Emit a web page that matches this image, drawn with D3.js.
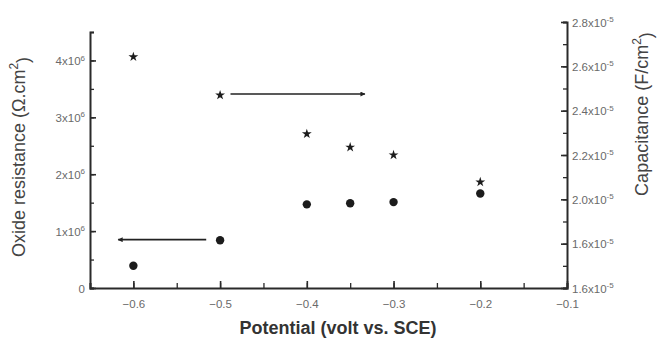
<!DOCTYPE html>
<html>
<head>
<meta charset="utf-8">
<script src="https://cdn.jsdelivr.net/npm/d3@7"></script>
<style>
  body { margin: 0; background: #fff; }
  svg text { font-family: "Liberation Sans", Arial, sans-serif; }
</style>
</head>
<body>
<div class="chart"></div>
<script>
// data
var potentials = [-0.6, -0.5, -0.4, -0.35, -0.3, -0.2];
var resistance = [0.39e6, 0.84e6, 1.47e6, 1.49e6, 1.51e6, 1.66e6];
var capacitance = [2.643e-5, 2.47e-5, 2.295e-5, 2.235e-5, 2.2e-5, 2.078e-5];

var xTicks = [-0.6, -0.5, -0.4, -0.3, -0.2, -0.1];
var leftTicks = [0, 1e6, 2e6, 3e6, 4e6];
var leftTickLabels = ['0', '1x10', '2x10', '3x10', '4x10'];
var rightTicks = [1.6e-5, 1.8e-5, 2.0e-5, 2.2e-5, 2.4e-5, 2.6e-5, 2.8e-5];
var rightTickLabels = ['1.6x10', '1.6x10', '2.0x10', '2.2x10', '2.4x10', '2.6x10', '2.8x10'];

// arrows: [x start, x end, y value, axis]
var arrows = [
  { x1: -0.488, x2: -0.333, y: 2.475e-5, axis: 'right' },
  { x1: -0.516, x2: -0.6175, y: 0.85e6, axis: 'left' }
];

var width = 657, height = 339;
var left = 90, right = 567, bottom = 288, topL = 32, topR = 22;

var svg = d3.select('.chart').append('svg')
    .attr('width', width)
    .attr('height', height);

var defs = svg.append('defs');
defs.append('marker')
    .attr('id', 'head')
    .attr('viewBox', '0 0 10 10')
    .attr('refX', 9).attr('refY', 5)
    .attr('markerWidth', 7).attr('markerHeight', 5)
    .attr('markerUnits', 'userSpaceOnUse')
    .attr('orient', 'auto')
    .append('path')
    .attr('d', 'M0,0 L10,5 L0,10 z')
    .attr('fill', '#222');

var x = d3.scaleLinear().domain([-0.65, -0.1]).range([left, right]);
var yL = d3.scaleLinear().domain([0, 4.5e6]).range([bottom, topL]);
var yR = d3.scaleLinear().domain([1.6e-5, 2.8e-5]).range([bottom, topR]);

var axisColor = '#2a2a2a';
var labelColor = '#6a6a6a';

// x axis
var xAxis = svg.append('g')
    .attr('transform', 'translate(0,' + bottom + ')')
    .call(d3.axisBottom(x).tickValues(d3.range(-0.65, -0.099, 0.05)).tickSize(-5).tickFormat(''));
xAxis.selectAll('.tick line').attr('stroke', axisColor).attr('stroke-width', 1.3);
xAxis.select('.domain').attr('stroke', axisColor).attr('stroke-width', 2);
var xAxisMajor = svg.append('g')
    .attr('transform', 'translate(0,' + bottom + ')')
    .call(d3.axisBottom(x).tickValues(xTicks).tickSize(-7).tickPadding(12).tickFormat(d3.format('.1f')));
xAxisMajor.select('.domain').remove();
xAxisMajor.selectAll('.tick line').attr('stroke', axisColor).attr('stroke-width', 1.6);
xAxisMajor.selectAll('.tick text').attr('fill', labelColor).attr('font-size', 11.5);

// left axis
var lMinor = svg.append('g')
    .attr('transform', 'translate(' + left + ',0)')
    .call(d3.axisLeft(yL).tickValues(d3.range(0, 4.51e6, 0.5e6)).tickSize(-4).tickFormat(''));
lMinor.select('.domain').attr('stroke', axisColor).attr('stroke-width', 2);
lMinor.selectAll('.tick line').attr('stroke', axisColor).attr('stroke-width', 1.3);
var lMajor = svg.append('g')
    .attr('transform', 'translate(' + left + ',0)')
    .call(d3.axisLeft(yL).tickValues(leftTicks).tickSize(-6).tickPadding(14).tickFormat(''));
lMajor.select('.domain').remove();
lMajor.selectAll('.tick line').attr('stroke', axisColor).attr('stroke-width', 1.6);
lMajor.selectAll('.tick').each(function (d, i) {
  var t = d3.select(this).append('text')
      .attr('x', -5).attr('dy', '0.35em')
      .attr('text-anchor', 'end')
      .attr('fill', labelColor)
      .attr('font-size', 11.5);
  t.append('tspan').text(leftTickLabels[i]);
  if (d !== 0) {
    t.append('tspan').attr('font-size', 8).attr('dy', '-0.55em').text('6');
  }
});

// right axis
var rMinor = svg.append('g')
    .attr('transform', 'translate(' + right + ',0)')
    .call(d3.axisRight(yR).tickValues(d3.range(1.6e-5, 2.81e-5, 0.1e-5)).tickSize(-4).tickFormat(''));
rMinor.select('.domain').attr('stroke', axisColor).attr('stroke-width', 2);
rMinor.selectAll('.tick line').attr('stroke', axisColor).attr('stroke-width', 1.3);
var rMajor = svg.append('g')
    .attr('transform', 'translate(' + right + ',0)')
    .call(d3.axisRight(yR).tickValues(rightTicks).tickSize(-6).tickFormat(''));
rMajor.select('.domain').remove();
rMajor.selectAll('.tick line').attr('stroke', axisColor).attr('stroke-width', 1.6);
rMajor.selectAll('.tick').each(function (d, i) {
  var t = d3.select(this).append('text')
      .attr('x', 5).attr('dy', '0.35em')
      .attr('text-anchor', 'start')
      .attr('fill', labelColor)
      .attr('font-size', 11.5);
  t.append('tspan').text(rightTickLabels[i]);
  t.append('tspan').attr('font-size', 8).attr('dy', '-0.55em').text('-5');
});

// circles: oxide resistance
svg.append('g').selectAll('circle')
    .data(potentials)
    .enter()
    .append('circle')
    .attr('cx', function (d) { return x(d); })
    .attr('cy', function (d, i) { return yL(resistance[i]); })
    .attr('r', 4.2)
    .attr('fill', '#1c1c1c');

// stars: capacitance
var star = d3.symbol().type(d3.symbolStar).size(30);
svg.append('g').selectAll('path')
    .data(potentials)
    .enter()
    .append('path')
    .attr('d', star)
    .attr('transform', function (d, i) {
      return 'translate(' + x(d) + ',' + yR(capacitance[i]) + ')';
    })
    .attr('fill', '#1c1c1c');

// arrows
svg.append('g').selectAll('line')
    .data(arrows)
    .enter()
    .append('line')
    .attr('x1', function (d) { return x(d.x1); })
    .attr('x2', function (d) { return x(d.x2); })
    .attr('y1', function (d) { return d.axis === 'right' ? yR(d.y) : yL(d.y); })
    .attr('y2', function (d) { return d.axis === 'right' ? yR(d.y) : yL(d.y); })
    .attr('stroke', '#222')
    .attr('stroke-width', 1.6)
    .attr('marker-end', 'url(#head)');

// axis titles
svg.append('text')
    .attr('x', 338)
    .attr('y', 334)
    .attr('text-anchor', 'middle')
    .attr('font-size', 18)
    .attr('font-weight', 'bold')
    .attr('fill', '#333')
    .text('Potential (volt vs. SCE)');

var yTitle = svg.append('text')
    .attr('transform', 'translate(25,' + 157 + ') rotate(-90)')
    .attr('text-anchor', 'middle')
    .attr('font-size', 18)
    .attr('fill', '#444');
yTitle.append('tspan').text('Oxide resistance (\u03A9.cm');
yTitle.append('tspan').attr('font-size', 12).attr('dy', '-0.6em').text('2');
yTitle.append('tspan').attr('dy', '0.6em').text(')');

var rTitle = svg.append('text')
    .attr('transform', 'translate(648,' + 114 + ') rotate(-90)')
    .attr('text-anchor', 'middle')
    .attr('font-size', 18)
    .attr('fill', '#444');
rTitle.append('tspan').text('Capacitance (F/cm');
rTitle.append('tspan').attr('font-size', 12).attr('dy', '-0.6em').text('2');
rTitle.append('tspan').attr('dy', '0.6em').text(')');
</script>
</body>
</html>
